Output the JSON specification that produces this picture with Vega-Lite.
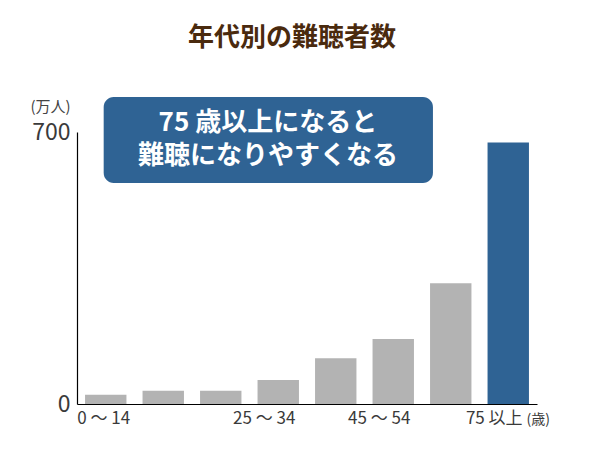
{
  "$schema": "https://vega.github.io/schema/vega-lite/v6.json",
  "width": 460,
  "height": 272,
  "autosize": "none",
  "padding": {"left": 77, "top": 132, "right": 63, "bottom": 46},
  "background": "white",
  "config": {
    "font": "Noto Sans CJK JP",
    "view": {"stroke": null},
    "axis": {"grid": false, "domainColor": "#000000", "domainWidth": 1.2, "ticks": false}
  },
  "title": {
    "text": "年代別の難聴者数",
    "font": "Noto Sans CJK JP",
    "fontSize": 26,
    "fontWeight": "bold",
    "color": "#4a2a0e",
    "anchor": "middle",
    "frame": "group",
    "dx": -15,
    "offset": 46
  },
  "datasets": {
    "bars": [
      {"age": "0 ～ 14", "people": 24},
      {"age": "15 ～ 19", "people": 34},
      {"age": "20 ～ 24", "people": 34},
      {"age": "25 ～ 34", "people": 62},
      {"age": "35 ～ 44", "people": 118},
      {"age": "45 ～ 54", "people": 167},
      {"age": "55 ～ 74", "people": 311},
      {"age": "75 以上", "people": 673}
    ],
    "note": [
      {"lines": ["75 歳以上になると", "難聴になりやすくなる"]}
    ]
  },
  "layer": [
    {
      "data": {"name": "bars"},
      "mark": {"type": "bar"},
      "encoding": {
        "x": {
          "field": "age",
          "type": "nominal",
          "sort": null,
          "scale": {"paddingInner": 0.28, "paddingOuter": 0.14},
          "axis": {
            "labelAngle": 0,
            "labelFontSize": 17,
            "labelColor": "#3a3a3a",
            "labelPadding": 6,
            "labelOffset": {"condition": {"test": "datum.label === '0 ～ 14'", "value": -2}, "value": -14},
            "labelExpr": "indexof(['0 ～ 14','25 ～ 34','45 ～ 54','75 以上'], datum.label) >= 0 ? datum.label : ''",
            "title": "(歳)",
            "titleFontSize": 14,
            "titleFontWeight": "normal",
            "titleColor": "#3a3a3a",
            "titleAngle": 0,
            "titleAlign": "left",
            "titleBaseline": "middle",
            "titleX": 449,
            "titleY": 15
          }
        },
        "y": {
          "field": "people",
          "type": "quantitative",
          "scale": {"domain": [0, 700], "nice": false},
          "axis": {
            "values": [0, 700],
            "labelFontSize": 23,
            "labelColor": "#3a3a3a",
            "labelPadding": 7,
            "title": "(万人)",
            "titleFontSize": 15,
            "titleFontWeight": "normal",
            "titleColor": "#444444",
            "titleAngle": 0,
            "titleAlign": "center",
            "titleBaseline": "middle",
            "titleX": -27,
            "titleY": -26
          }
        },
        "color": {
          "condition": {"test": "datum.age === '75 以上'", "value": "#2f6394"},
          "value": "#b3b3b3"
        }
      }
    },
    {
      "data": {"name": "note"},
      "mark": {"type": "rect", "cornerRadius": 10, "color": "#2f6394", "clip": false},
      "encoding": {
        "x": {"datum": "0 ～ 14", "type": "nominal", "bandPosition": 0.45},
        "x2": {"datum": "55 ～ 74", "bandPosition": 0.07},
        "y": {"datum": 790, "type": "quantitative"},
        "y2": {"datum": 569}
      }
    },
    {
      "data": {"name": "note"},
      "mark": {"type": "text", "color": "white", "fontSize": 26, "fontWeight": "bold", "lineHeight": 33, "align": "center", "baseline": "middle", "clip": false},
      "encoding": {
        "x": {"datum": "25 ～ 34", "type": "nominal", "bandPosition": 0.25},
        "y": {"datum": 722, "type": "quantitative"},
        "text": {"field": "lines"}
      }
    }
  ]
}
